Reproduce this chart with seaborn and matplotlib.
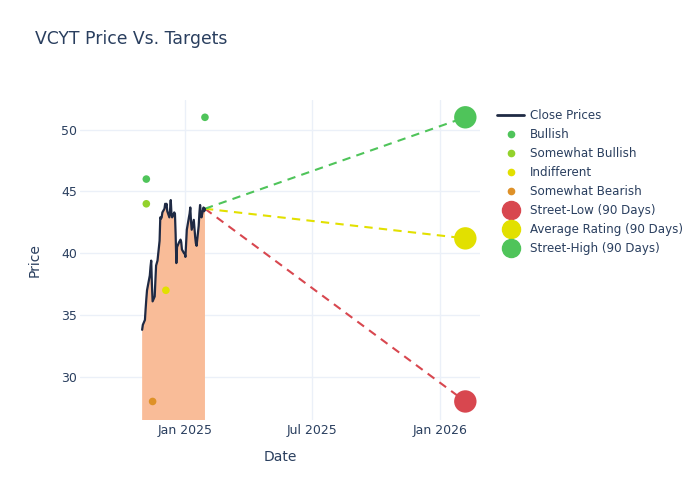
import numpy as np
import pandas as pd
import seaborn as sns
import matplotlib.pyplot as plt
import matplotlib.dates as mdates
from matplotlib.lines import Line2D

# close prices, one per business day from 2024-10-31 to 2025-01-29
close_dates = pd.bdate_range('2024-10-31', '2025-01-29')
close_prices = [33.8, 34.2, 34.6, 35.5, 36.3, 37.0, 37.3, 38.2, 38.9, 39.4,
                37.5, 36.1, 36.5, 37.8, 39.0, 39.2, 39.4, 41.0, 42.9, 42.8,
                42.9, 43.3, 43.6, 44.0, 43.8, 44.0, 43.4, 42.9, 43.5, 44.3,
                43.2, 42.9, 43.3, 43.2, 41.5, 39.2, 40.5, 40.9, 41.0, 41.1,
                40.9, 40.3, 40.0, 40.0, 39.7, 40.8, 41.9, 42.9, 43.2, 43.7,
                42.6, 41.9, 42.7, 42.0, 41.3, 40.8, 40.6, 42.2, 43.2, 43.9,
                43.3, 42.9, 43.7, 43.4, 43.6]

# analyst ratings
rating_dates = ['2024-11-06', '2024-11-06', '2024-12-04', '2024-11-15', '2025-01-29']
rating_values = [46, 44, 37, 28, 51]
rating_labels = ['Bullish', 'Somewhat Bullish', 'Indifferent', 'Somewhat Bearish', 'Bullish']

# 90-day targets
target_date = '2026-02-06'
target_names = ['Street-Low (90 Days)', 'Average Rating (90 Days)', 'Street-High (90 Days)']
target_values = [28, 41.2, 51]

rating_colors = {'Bullish': '#4fc45a', 'Somewhat Bullish': '#93d22c',
                 'Indifferent': '#e2e000', 'Somewhat Bearish': '#de9128'}
target_colors = ['#d8474f', '#e2e000', '#4fc45a']

txt = '#2a3f5f'
grid = '#ebf0f8'

df_close = pd.DataFrame({'Date': close_dates, 'Price': close_prices})
df_rate = pd.DataFrame({'Date': pd.to_datetime(rating_dates), 'Price': rating_values,
                        'Rating': rating_labels})
df_tgt = pd.DataFrame({'Date': pd.to_datetime([target_date] * 3), 'Price': target_values,
                       'Target': target_names})

sns.set_style('white')
plt.rcParams['font.family'] = ['DejaVu Sans']

fig = plt.figure(figsize=(7, 5), dpi=100)
ax = fig.add_axes([0.1143, 0.16, 0.5714, 0.64])

ax.fill_between(df_close['Date'], df_close['Price'], 0, color='#f9bc98', lw=0, zorder=1)
sns.lineplot(data=df_close, x='Date', y='Price', color='#1f2a44', lw=1.6, ax=ax, zorder=3)

last_date = df_close['Date'].iloc[-1]
last_price = df_close['Price'].iloc[-1]
for v, c in zip(target_values, target_colors):
    ax.plot([last_date, pd.Timestamp(target_date)], [last_price, v], ls=(0, (4, 3)),
            color=c, lw=1.5, zorder=2)

sns.scatterplot(data=df_rate, x='Date', y='Price', hue='Rating', palette=rating_colors,
                s=30, edgecolor='none', legend=False, ax=ax, zorder=4)
sns.scatterplot(data=df_tgt, x='Date', y='Price', hue='Target',
                palette=dict(zip(target_names, target_colors)),
                s=260, edgecolor='none', legend=False, ax=ax, zorder=5)

ax.set_xlim(pd.Timestamp('2024-08-03'), pd.Timestamp('2026-02-27'))
ax.set_ylim(26.5, 52.4)
ax.xaxis.set_major_locator(mdates.MonthLocator(bymonth=[1, 7]))
ax.xaxis.set_major_formatter(mdates.DateFormatter('%b %Y'))
ax.set_yticks([30, 35, 40, 45, 50])
ax.grid(True, color=grid, lw=1)
ax.set_axisbelow(True)
for s in ax.spines.values():
    s.set_visible(False)
ax.tick_params(colors=txt, labelsize=9, length=0)
ax.tick_params(axis='y', pad=2)
ax.tick_params(axis='x', pad=3)
ax.set_xlabel('Date', color=txt, fontsize=10, labelpad=9)
ax.set_ylabel('Price', color=txt, fontsize=10, labelpad=14)

fig.text(0.05, 0.912, 'VCYT Price Vs. Targets', color=txt, fontsize=12.4)

handles = [Line2D([], [], color='#1f2a44', lw=2, label='Close Prices')]
for k, c in rating_colors.items():
    handles.append(Line2D([], [], ls='', marker='o', ms=4.5, color=c, label=k))
for n, c in zip(target_names, target_colors):
    handles.append(Line2D([], [], ls='', marker='o', ms=13, color=c, label=n))
leg = fig.legend(handles=handles, loc='upper left', bbox_to_anchor=(0.697, 0.801),
                 frameon=False, fontsize=8.6, labelspacing=0.5, handlelength=2.2,
                 handletextpad=0.55, borderpad=0.3)
for t in leg.get_texts():
    t.set_color(txt)

fig.savefig('out.png', dpi=100)
